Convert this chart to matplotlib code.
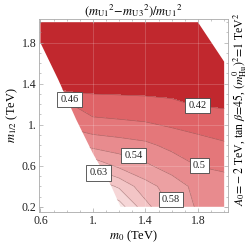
import numpy as np
import matplotlib
matplotlib.use("Agg")
import matplotlib.pyplot as plt
from matplotlib.patches import Polygon

plt.rcParams['font.family'] = ['Liberation Serif', 'DejaVu Serif']
plt.rcParams['mathtext.fontset'] = 'stix'

# grid of (m_U1^2 - m_U3^2)/m_U1^2 values
m0 = [0.6, 0.8, 1.0, 1.2, 1.4, 1.6, 1.8, 2.0]
m12 = [0.2, 0.4, 0.6, 0.8, 1.0, 1.2, 1.4, 1.6, 1.8, 2.0]
ratio = [
    [0.80, 0.78, 0.76, 0.73, 0.64, 0.58, 0.537, 0.52],    # 0.2
    [0.78, 0.74, 0.70, 0.66, 0.60, 0.565, 0.53, 0.51],    # 0.4
    [0.70, 0.66, 0.615, 0.575, 0.55, 0.525, 0.50, 0.497], # 0.6
    [0.60, 0.56, 0.53, 0.52, 0.51, 0.49, 0.475, 0.465],   # 0.8
    [0.51, 0.49, 0.475, 0.47, 0.465, 0.455, 0.447, 0.44], # 1.0
    [0.48, 0.465, 0.436, 0.433, 0.43, 0.425, 0.415, 0.412], # 1.2
    [0.42, 0.39, 0.40, 0.40, 0.40, 0.40, 0.40, 0.40],     # 1.4
    [0.38, 0.38, 0.38, 0.38, 0.38, 0.38, 0.38, 0.38],     # 1.6
    [0.36, 0.36, 0.36, 0.36, 0.36, 0.36, 0.36, 0.36],     # 1.8
    [0.34, 0.34, 0.34, 0.34, 0.34, 0.34, 0.34, 0.34],     # 2.0
]

levels = [0.418, 0.460, 0.501, 0.543, 0.584, 0.626, 0.667, 0.709, 0.750]
band_colors = ['#c1282e', '#df6367', '#e4777a', '#e88b8e', '#eca0a2',
               '#f0b3b5', '#f3c5c6', '#f6d6d7', '#f9e5e5', '#fcf1f1']

# allowed region (outside it there is no valid point)
region_m0 = [0.6, 1.8, 2.0, 2.0, 1.21, 1.13, 1.0, 0.873, 0.736, 0.6]
region_m12 = [2.0, 2.0, 1.615, 0.2, 0.2, 0.43, 0.72, 1.05, 1.44, 1.8]

# contour labels as placed in the original
label_text = ['0.46', '0.42', '0.54', '0.5', '0.63', '0.58']
label_m0 = [0.82, 1.797, 1.308, 1.81, 1.043, 1.596]
label_m12 = [1.244, 1.185, 0.70, 0.60, 0.53, 0.273]

fig = plt.figure(figsize=(2.49, 2.45), dpi=100)
ax = fig.add_axes([0.157, 0.135, 0.759, 0.787])

X, Y = np.meshgrid(m0, m12)
Z = np.array(ratio)
region = Polygon(np.column_stack([region_m0, region_m12]), closed=True,
                 facecolor='none', edgecolor='none')
ax.add_patch(region)

cf = ax.contourf(X, Y, Z, levels=[0.0] + levels + [1.0], colors=band_colors)
cf.set_clip_path(region)
cl = ax.contour(X, Y, Z, levels=levels, colors='#7a3a3a', linewidths=0.45, alpha=0.55)
cl.set_clip_path(region)

for v in [1.0, 1.4, 1.8]:
    ax.axvline(v, color='white', lw=0.5, alpha=0.25)
for v in [0.6, 1.0, 1.4, 1.8]:
    ax.axhline(v, color='white', lw=0.5, alpha=0.25)

for t, x, y in zip(label_text, label_m0, label_m12):
    ax.text(x, y, t, fontsize=7.5, ha='center', va='center', color='#222222',
            bbox=dict(boxstyle='square,pad=0.3', fc='white', ec='#444444', lw=0.6))

ax.set_xlim(0.59, 2.03)
ax.set_ylim(0.15, 2.03)
ax.set_xticks([0.6, 1.0, 1.4, 1.8])
ax.set_xticklabels(['0.6', '1.', '1.4', '1.8'])
ax.set_yticks([0.2, 0.6, 1.0, 1.4, 1.8])
ax.set_yticklabels(['0.2', '0.6', '1.', '1.4', '1.8'])
ax.set_xticks(np.arange(0.6, 2.01, 0.1), minor=True)
ax.set_yticks(np.arange(0.2, 2.01, 0.1), minor=True)
ax.tick_params(which='both', direction='in', top=True, right=True,
               color='#999999', labelsize=8.5, labelcolor='#222222', pad=2)
ax.tick_params(which='major', length=3, width=0.5)
ax.tick_params(which='minor', length=1.5, width=0.4)
for s in ax.spines.values():
    s.set_color('#aaaaaa')
    s.set_linewidth(0.6)

ax.set_xlabel(r'$m_0$ (TeV)', fontsize=9, labelpad=1)
ax.set_ylabel(r'$m_{1/2}$ (TeV)', fontsize=9, labelpad=1)
ax.set_title(r'$(m_{\rm U1}{}^2\!-\!m_{\rm U3}{}^2)/m_{\rm U1}{}^2$', fontsize=9, pad=3)
fig.text(0.962, 0.555,
         r'$A_0\!=\!-2$ TeV, tan $\beta\!=\!45$, $(m^0_{\rm Hu})^2\!=\!1$ TeV$^2$',
         rotation=90, ha='center', va='center', fontsize=8.5)

fig.savefig('out.png', dpi=100)
